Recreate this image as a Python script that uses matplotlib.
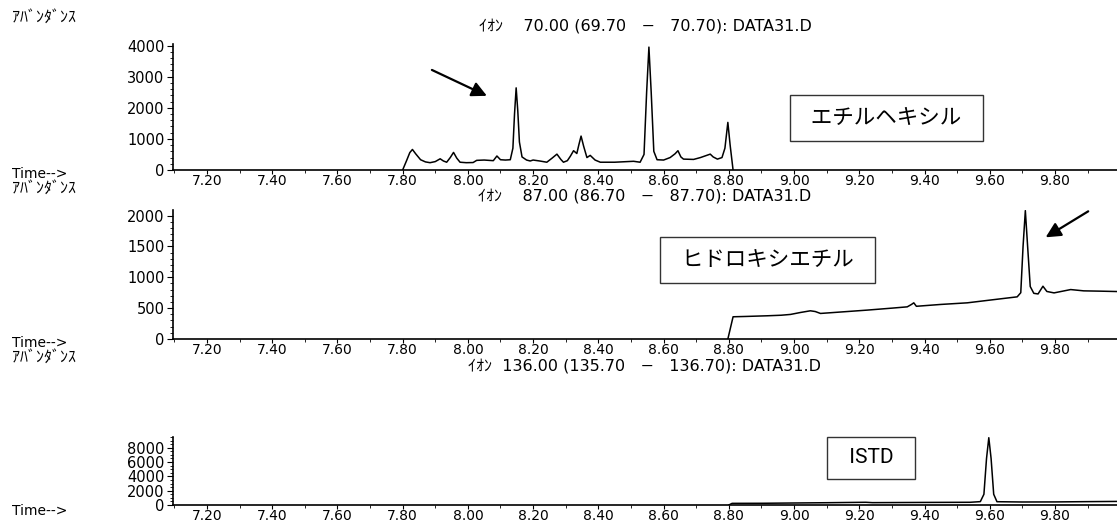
import numpy as np
import matplotlib
matplotlib.use("Agg")
import matplotlib.pyplot as plt
from matplotlib.ticker import MultipleLocator, FormatStrFormatter

plt.rcParams['font.family'] = ['DejaVu Sans', 'Noto Sans CJK JP']

# イオン 70 (エチルヘキシル)
t70 = [7.800, 7.812, 7.822, 7.830, 7.840, 7.855, 7.870, 7.884, 7.900, 7.915,
       7.925, 7.935, 7.946, 7.956, 7.966, 7.976, 7.995, 8.016, 8.027, 8.050,
       8.078, 8.089, 8.100, 8.115, 8.130, 8.138, 8.143, 8.148, 8.153, 8.158,
       8.166, 8.180, 8.191, 8.200, 8.220, 8.242, 8.258, 8.273, 8.285, 8.293,
       8.305, 8.314, 8.324, 8.334, 8.340, 8.347, 8.355, 8.365, 8.375, 8.390,
       8.406, 8.450, 8.508, 8.528, 8.540, 8.548, 8.555, 8.562, 8.570, 8.580,
       8.600, 8.620, 8.635, 8.644, 8.653, 8.661, 8.692, 8.713, 8.743, 8.752,
       8.765, 8.779, 8.788, 8.797, 8.804, 8.813]
i70 = [0, 300, 560, 660, 520, 330, 260, 235, 270, 360,
       290, 250, 400, 565, 380, 250, 235, 240, 310, 320,
       300, 450, 330, 320, 330, 700, 1800, 2640, 1900, 900,
       420, 320, 290, 320, 290, 250, 380, 510, 340, 250,
       300, 440, 620, 530, 800, 1090, 760, 400, 470, 320,
       250, 250, 280, 250, 500, 2500, 3950, 2500, 600, 330,
       320, 400, 520, 620, 420, 350, 340, 400, 510, 420,
       350, 400, 700, 1530, 800, 0]

# イオン 87 (ヒドロキシエチル)
t87 = [8.797, 8.813, 8.850, 8.917, 8.960, 8.989, 9.020, 9.050, 9.065, 9.081,
       9.150, 9.224, 9.300, 9.347, 9.360, 9.367, 9.375, 9.400, 9.450, 9.531,
       9.600, 9.684, 9.695, 9.702, 9.709, 9.716, 9.724, 9.735, 9.748, 9.763,
       9.775, 9.797, 9.848, 9.888, 9.940, 9.991]
i87 = [0, 360, 365, 376, 385, 398, 430, 457, 445, 414,
       440, 468, 500, 521, 560, 586, 530, 540, 560, 586,
       630, 683, 750, 1500, 2080, 1500, 850, 740, 730, 855,
       770, 747, 801, 780, 775, 769]

# イオン 136 (ISTD)
t136 = [8.800, 8.810, 8.900, 9.000, 9.100, 9.220, 9.240, 9.400, 9.540, 9.571,
        9.582, 9.590, 9.597, 9.604, 9.612, 9.622, 9.700, 9.800, 9.900, 9.991]
i136 = [0, 230, 240, 280, 320, 380, 330, 360, 380, 470,
        1500, 6500, 9400, 6500, 1500, 460, 420, 430, 470, 500]

titles = ['ｲｵﾝ    70.00 (69.70   −   70.70): DATA31.D',
          'ｲｵﾝ    87.00 (86.70   −   87.70): DATA31.D',
          'ｲｵﾝ  136.00 (135.70   −   136.70): DATA31.D']

W, H = 1117, 524
fig = plt.figure(figsize=(W / 100, H / 100), dpi=100)


def px_axes(top, bottom, left=173, right=1117):
    return fig.add_axes([left / W, 1 - bottom / H, (right - left) / W, (bottom - top) / H])


def setup(ax, ymax, major, minor):
    ax.set_xlim(7.096, 9.99)
    ax.set_ylim(0, ymax)
    for s in ['top', 'right']:
        ax.spines[s].set_visible(False)
    ax.spines['left'].set_linewidth(1.2)
    ax.spines['bottom'].set_linewidth(1.2)
    ax.xaxis.set_major_locator(MultipleLocator(0.2))
    ax.xaxis.set_minor_locator(MultipleLocator(0.1))
    ax.xaxis.set_major_formatter(FormatStrFormatter('%.2f'))
    ax.yaxis.set_major_locator(MultipleLocator(major))
    ax.yaxis.set_minor_locator(MultipleLocator(minor))
    ax.tick_params(axis='x', which='major', length=3, pad=0, labelsize=10)
    ax.tick_params(axis='x', which='minor', length=2)
    ax.tick_params(axis='y', which='major', length=4, pad=2, labelsize=10.5)
    ax.tick_params(axis='y', which='minor', length=2)


box = dict(boxstyle='square,pad=0.55', fc='white', ec='#333333', lw=1)
head = dict(arrowstyle='-|>,head_length=0.9,head_width=0.45', color='black', lw=1.6)

ax1 = px_axes(44, 170)
ax1.plot(t70, i70, color='black', lw=1.1)
setup(ax1, 4050, 1000, 200)
ax1.annotate('', xy=(8.066, 2346), xytext=(7.882, 3254), arrowprops=head)
ax1.text(9.283, 1664, '  エチルヘキシル  ', fontsize=15.5, ha='center', va='center',
         family=['Noto Sans CJK JP'], bbox=box)

ax2 = px_axes(210, 339)
ax2.plot(t87, i87, color='black', lw=1.1)
setup(ax2, 2090, 500, 100)
ax2.annotate('', xy=(9.764, 1624), xytext=(9.909, 2092), annotation_clip=False,
             arrowprops=head)
ax2.text(8.918, 1282, '  ヒドロキシエチル  ', fontsize=15.5, ha='center', va='center',
         family=['Noto Sans CJK JP'], bbox=box)

ax3 = px_axes(437, 505)
ax3.plot(t136, i136, color='black', lw=1.1)
setup(ax3, 9500, 2000, 500)
ax3.text(9.237, 6620, '  ISTD  ', fontsize=15, ha='center', va='center',
         family=['Liberation Sans Narrow', 'Roboto', 'DejaVu Sans'], bbox=box)

# ion titles and axis captions
for ty, title in zip([26, 196, 366], titles):
    fig.text(645 / W, 1 - ty / H, title, ha='center', va='center', fontsize=11.5)

for ty in [17, 188, 357]:
    fig.text(12 / W, 1 - ty / H, 'ｱﾊﾞﾝﾀﾞﾝｽ', ha='left', va='center', fontsize=11.5)
for ty in [174, 343, 511]:
    fig.text(12 / W, 1 - ty / H, 'Time-->', ha='left', va='center', fontsize=10)

fig.savefig('out.png', dpi=100)
